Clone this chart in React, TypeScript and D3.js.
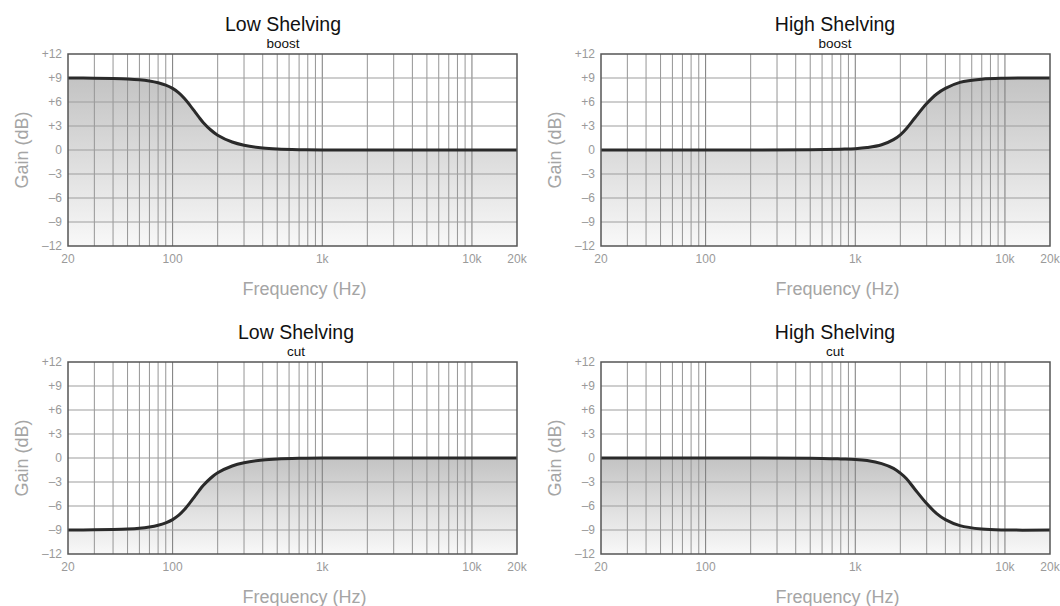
import React from 'react';
import * as d3 from 'd3';

// Frequency axis labels
const freqTicks = [20, 100, 1000, 10000, 20000];
const freqLabels = ['20', '100', '1k', '10k', '20k'];

// Gain axis labels
const gainTicks = [12, 9, 6, 3, 0, -3, -6, -9, -12];
const gainLabels = ['+12', '+9', '+6', '+3', '0', '\u20133', '\u20136', '\u20139', '\u201312'];

// Curves: [frequency Hz, gain dB]
const lowShelfBoost: [number, number][] = [
  [20, 9], [30, 8.98], [40, 8.94], [50, 8.88], [60, 8.78], [70, 8.62], [80, 8.4],
  [90, 8.1], [100, 7.7], [110, 7.15], [120, 6.45], [130, 5.65], [140, 4.85],
  [150, 4.1], [160, 3.45], [180, 2.5], [200, 1.85], [250, 1.0], [300, 0.6],
  [400, 0.25], [500, 0.12], [700, 0.04], [1000, 0.01], [2000, 0], [20000, 0],
];

const highShelfBoost: [number, number][] = [
  [20, 0], [200, 0], [500, 0.03], [800, 0.1], [1000, 0.16], [1200, 0.3],
  [1500, 0.65], [1800, 1.3], [2000, 1.9], [2200, 2.7], [2500, 4.0], [3000, 5.8],
  [3500, 7.0], [4000, 7.7], [5000, 8.45], [7000, 8.85], [10000, 8.97], [20000, 9],
];

const lowShelfCut: [number, number][] = [
  [20, -9], [30, -8.98], [40, -8.94], [50, -8.88], [60, -8.78], [70, -8.62], [80, -8.4],
  [90, -8.1], [100, -7.7], [110, -7.15], [120, -6.45], [130, -5.65], [140, -4.85],
  [150, -4.1], [160, -3.45], [180, -2.5], [200, -1.85], [250, -1.0], [300, -0.6],
  [400, -0.25], [500, -0.12], [700, -0.04], [1000, -0.01], [2000, 0], [20000, 0],
];

const highShelfCut: [number, number][] = [
  [20, 0], [200, 0], [500, -0.03], [800, -0.12], [1000, -0.18], [1200, -0.32],
  [1500, -0.7], [1800, -1.3], [2000, -1.9], [2200, -2.6], [2500, -3.9], [3000, -5.7],
  [3500, -6.95], [4000, -7.7], [5000, -8.45], [7000, -8.88], [10000, -9], [20000, -9],
];

const panels = [
  { title: 'Low Shelving', sub: 'boost', data: lowShelfBoost, left: 68, top: 54, titleX: 283 },
  { title: 'High Shelving', sub: 'boost', data: highShelfBoost, left: 601, top: 54, titleX: 835 },
  { title: 'Low Shelving', sub: 'cut', data: lowShelfCut, left: 68, top: 362, titleX: 296 },
  { title: 'High Shelving', sub: 'cut', data: highShelfCut, left: 601, top: 362, titleX: 835 },
];

const W = 449;
const H = 192;
const font = '"Liberation Sans", Arial, Helvetica, sans-serif';

const Panel = ({ p, idx }: { p: typeof panels[number]; idx: number }) => {
  const x = d3.scaleLog().domain([20, 20000]).range([0, W]);
  const y = d3.scaleLinear().domain([-12, 12]).range([H, 0]);

  const gridFreqs = x.ticks().filter(f => f > 20 && f < 20000);
  const decades = [100, 1000, 10000];

  const line = d3.line<[number, number]>()
    .x(d => x(d[0]))
    .y(d => y(d[1]))
    .curve(d3.curveCatmullRom.alpha(0.5));

  const area = d3.area<[number, number]>()
    .x(d => x(d[0]))
    .y0(y(-12))
    .y1(d => y(d[1]))
    .curve(d3.curveCatmullRom.alpha(0.5));

  const gradId = `fillGrad${idx}`;

  return (
    <g>
      <defs>
        <linearGradient id={gradId} x1="0" y1="0" x2="0" y2="1">
          <stop offset="0%" stopColor="#c3c3c3" />
          <stop offset="100%" stopColor="#f8f8f8" />
        </linearGradient>
      </defs>

      <text x={p.titleX} y={p.top - 23} textAnchor="middle" fontSize={19.5} fill="#111" fontFamily={font}>{p.title}</text>
      <text x={p.titleX} y={p.top - 6} textAnchor="middle" fontSize={13.5} fill="#111" fontFamily={font}>{p.sub}</text>

      <g transform={`translate(${p.left},${p.top})`}>
        <rect x={0} y={0} width={W} height={H} fill="#fff" />
        <path d={area(p.data) || ''} fill={`url(#${gradId})`} />

        {gridFreqs.map(f => (
          <line key={`v${f}`} x1={x(f)} x2={x(f)} y1={0} y2={H}
            stroke={decades.includes(f) ? '#7a7a7a' : '#959595'} strokeWidth={1} />
        ))}
        {gainTicks.filter(g => g > -12 && g < 12).map(g => (
          <line key={`h${g}`} x1={0} x2={W} y1={y(g)} y2={y(g)} stroke="#9e9e9e" strokeWidth={1.2} />
        ))}

        <path d={line(p.data) || ''} fill="none" stroke="#2a2a2a" strokeWidth={3} strokeLinejoin="round" />

        <rect x={0} y={0} width={W} height={H} fill="none" stroke="#555" strokeWidth={1.5} />

        {gainTicks.map((g, i) => (
          <text key={`gl${g}`} x={-6} y={y(g)} dy="0.35em" textAnchor="end" fontSize={12} fill="#9a9a9a" fontFamily={font}>{gainLabels[i]}</text>
        ))}
        {freqTicks.map((f, i) => (
          <text key={`fl${f}`} x={x(f)} y={H + 17} textAnchor="middle" fontSize={12} fill="#9a9a9a" fontFamily={font}>{freqLabels[i]}</text>
        ))}

        <text x={W / 2 + 12} y={H + 49} textAnchor="middle" fontSize={18} fill="#a5a5a5" fontFamily={font}>Frequency (Hz)</text>
        <text transform={`translate(-46,${H / 2}) rotate(-90)`} dy="0.35em" textAnchor="middle" fontSize={18} fill="#a5a5a5" fontFamily={font}>Gain (dB)</text>
      </g>
    </g>
  );
};

const App = () => {
  return (
    <div style={{ position: 'absolute', left: 0, top: 0 }}>
      <svg width={1060} height={606} style={{ display: 'block', background: '#fff' }}>
        {panels.map((p, i) => <Panel key={i} p={p} idx={i} />)}
      </svg>
    </div>
  );
};

export default App;
